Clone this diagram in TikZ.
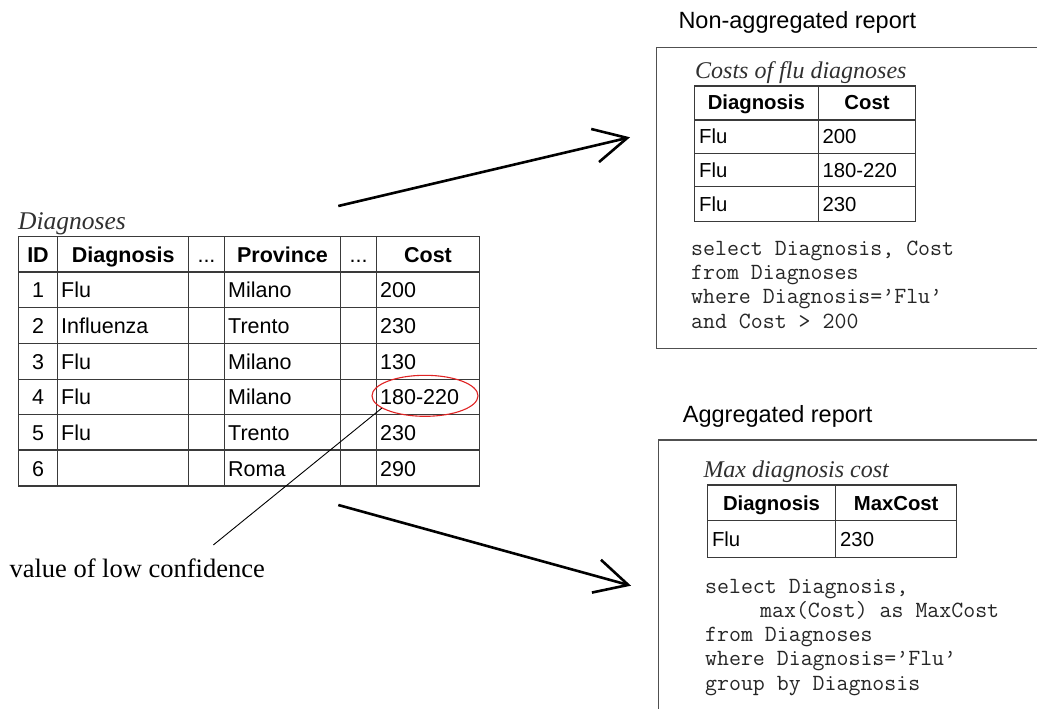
\documentclass[tikz,border=0pt]{standalone}
\usepackage{fontspec}
\setmainfont{Liberation Serif}
\setsansfont{Liberation Sans}
\usetikzlibrary{shapes.geometric,arrows.meta}

\definecolor{rulegray}{HTML}{3A3A3A}
\definecolor{framegray}{HTML}{505050}
\definecolor{capgray}{HTML}{303030}
\definecolor{confred}{HTML}{E02424}

\tikzset{
  grid/.style={draw=rulegray, line width=1.2pt},
  panel/.style={draw=framegray, line width=1.3pt},
  cellA/.style={font=\sffamily\fontsize{21.5}{24}\selectfont, inner sep=0pt, anchor=base west},
  headA/.style={font=\sffamily\bfseries\fontsize{21.5}{24}\selectfont, inner sep=0pt, anchor=base},
  cellB/.style={font=\sffamily\fontsize{20.3}{24}\selectfont, inner sep=0pt, anchor=base west},
  headB/.style={font=\sffamily\bfseries\fontsize{20.3}{24}\selectfont, inner sep=0pt, anchor=base},
  tabcap/.style={font=\itshape\fontsize{25.5}{28}\selectfont, text=capgray, inner sep=0pt, anchor=base west},
  subcap/.style={font=\itshape\fontsize{24}{28}\selectfont, text=capgray, inner sep=0pt, anchor=base west},
  heading/.style={font=\sffamily\fontsize{23.5}{28}\selectfont, inner sep=0pt, anchor=base west},
  sql/.style={font=\ttfamily\fontsize{23.2}{24}\selectfont, text=black!85, inner sep=0pt, anchor=base west},
  note/.style={font=\fontsize{26.5}{30}\selectfont, inner sep=0pt, anchor=base west},
  flow/.style={line width=2.6pt, -{Straight Barb[length=33pt,width=34pt]}},
}

\begin{document}
\begin{tikzpicture}[x=1pt,y=-1pt]
\useasboundingbox (0,0) rectangle (1037,709);
\fill[white] (0,0) rectangle (1037,709);

% ---------- source table: Diagnoses ----------
\node[tabcap] (capMain) at (18,229.3) {Diagnoses};
\draw[grid] (18.3,236.7) rectangle (479.3,486);
\foreach \x in {57.7,188.7,224.3,340.7,376.7}
  \draw[grid] (\x,236.7) -- (\x,486);
\foreach \y in {272,307.7,343.3,379.3,414.3,450}
  \draw[grid] (18.3,\y) -- (479.3,\y);

\node[headA] (hID)   at (38,262.3)    {ID};
\node[headA] (hDiag) at (123.2,262.3) {Diagnosis};
\node[cellA, anchor=base] (hDotsA) at (206.5,262.3) {...};
\node[headA] (hProv) at (282.5,262.3) {Province};
\node[cellA, anchor=base] (hDotsB) at (358.7,262.3) {...};
\node[headA] (hCost) at (428,262.3)   {Cost};

\foreach \n/\d/\p/\c [count=\r] in
  {1/Flu/Milano/200, 2/Influenza/Trento/230, 3/Flu/Milano/130,
   4/Flu/Milano/180-220, 5/Flu/Trento/230, 6//Roma/290} {
  \pgfmathsetmacro\yb{272+(\r-0.5)*35.67+8}
  \node[cellA, anchor=base] (id\r) at (38,\yb)  {\n};
  \node[cellA] (dg\r) at (61,\yb)  {\d};
  \node[cellA] (pv\r) at (228,\yb) {\p};
  \node[cellA] (ct\r) at (380,\yb) {\c};
}

% low-confidence marker and its label
\node[ellipse, draw=confred, line width=1.1pt, minimum width=106pt,
      minimum height=41pt, inner sep=0pt] (conf) at (425,395.8) {};
\node[note] (lowconf) at (9.3,577.7) {value of low confidence};
\coordinate (noteTip) at (213.3,545);
\draw[line width=0.9pt] (conf.196) -- (noteTip);

% ---------- flow arrows ----------
\coordinate (upA) at (338.3,206);
\coordinate (upB) at (630,137.3);
\coordinate (dnA) at (338.3,505);
\coordinate (dnB) at (631,585.7);
\draw[flow] (upA) -- (upB);
\draw[flow] (dnA) -- (dnB);

% ---------- non-aggregated report ----------
\node[heading] (hNonAgg) at (678.3,28.3) {Non-aggregated report};
\draw[panel] (1045,47.7) -- (656.7,47.7) -- (656.7,348.7) -- (1045,348.7);
\node[subcap] (capNon) at (695,78.3) {Costs of flu diagnoses};
\draw[grid] (694.3,86) rectangle (915.7,221.7);
\draw[grid] (818.3,86) -- (818.3,221.7);
\foreach \y in {120,153.7,186.7}
  \draw[grid] (694.3,\y) -- (915.7,\y);
\node[headB] (nhDiag) at (756.3,110) {Diagnosis};
\node[headB] (nhCost) at (867,110)   {Cost};
\foreach \c/\yb [count=\r] in {200/143.8, 180-220/177.2, 230/211.2} {
  \node[cellB] (nd\r) at (699,\yb)   {Flu};
  \node[cellB] (nc\r) at (822.3,\yb) {\c};
}
\node[sql] (nq1) at (691,255)   {select Diagnosis, Cost};
\node[sql] (nq2) at (691,279.4) {from Diagnoses};
\node[sql] (nq3) at (691,303.8) {where Diagnosis=’Flu’};
\node[sql] (nq4) at (691,328.2) {and Cost > 200};

% ---------- aggregated report ----------
\node[heading] (hAgg) at (682.7,422.3) {Aggregated report};
\draw[panel] (1045,440) -- (658.7,440) -- (658.7,715);
\node[subcap] (capAgg) at (703.3,477.3) {Max diagnosis cost};
\draw[grid] (707.3,485) rectangle (956.7,557.7);
\draw[grid] (835.7,485) -- (835.7,557.7);
\draw[grid] (707.3,520.7) -- (956.7,520.7);
\node[headB] (ahDiag) at (771.5,510) {Diagnosis};
\node[headB] (ahMax)  at (896.2,510) {MaxCost};
\node[cellB] (ad1) at (711.8,546.5) {Flu};
\node[cellB] (ac1) at (840,546.5)   {230};
\node[sql] (aq1) at (705,593.3) {select Diagnosis,};
\node[sql] (aq2) at (760,617.5) {max(Cost) as MaxCost};
\node[sql] (aq3) at (705,641.7) {from Diagnoses};
\node[sql] (aq4) at (705,665.9) {where Diagnosis=’Flu’};
\node[sql] (aq5) at (705,690.1) {group by Diagnosis};
\end{tikzpicture}
\end{document}
